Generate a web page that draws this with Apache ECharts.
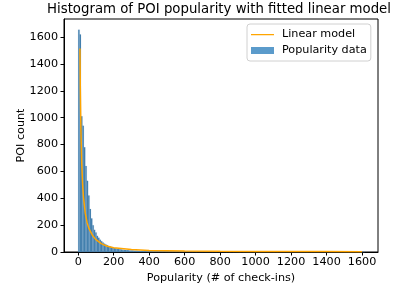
<!DOCTYPE html>
<html>
<head>
<meta charset="utf-8">
<script src="https://cdn.jsdelivr.net/npm/echarts@6/dist/echarts.min.js"></script>
<style>html,body{margin:0;padding:0;background:#fff}#c{width:401px;height:289px}</style>
</head>
<body>
<div id="c"></div>
<script>
// Histogram: bin width and counts per bin (bins start at 0)
const binWidth = 8;
const counts = [
  1655, 1620, 1010, 940, 780, 640, 530, 420, 320, 250,
  200, 165, 145, 120, 106, 92, 80, 71, 62, 56,
  50, 45, 41, 36, 32, 29, 27, 24, 22, 21,
  19, 17, 16, 15, 14, 13, 12, 11, 11, 10,
  9, 9, 8, 8, 7, 7, 6, 6, 6, 5,
  5, 5, 4, 4, 4, 4, 3, 3, 3, 3,
  3, 3, 2, 2, 2, 2, 2, 2, 2, 2,
  2, 1, 2, 1, 1, 2, 1, 1, 1, 1,
  1, 1, 1, 0, 1, 1, 0, 1, 1, 0,
  1, 0, 1, 1, 0, 1, 0, 0, 1, 0,
  1, 0, 0, 1, 0, 1, 0, 0, 1, 0,
  0, 1, 0, 0, 0, 1, 0, 0, 1, 0,
  0, 0, 1, 0, 0, 0, 1, 0, 0, 0,
  1, 0, 0, 0, 0, 1, 0, 0, 0, 0,
  0, 1, 0, 0, 0, 0, 0, 1, 0, 0,
  0, 0, 0, 0, 1, 0, 0, 0, 0, 0,
  0, 0, 1, 0, 0, 0, 0, 0, 0, 0,
  0, 1, 0, 0, 0, 0, 0, 0, 0, 0,
  0, 0, 0, 1, 0, 0, 0, 0, 0, 0,
  0, 0, 0, 0, 0, 0, 0, 0, 0, 1,
  0, 1
];
// Fitted model line (x = check-ins, y = POI count)
const modelX = [10, 12, 15, 20, 25, 30, 40, 50, 60, 80, 100, 130, 160, 200, 300, 400, 600, 800, 1000, 1200, 1400, 1600];
const modelY = [1515, 1217, 931, 659, 504, 405, 287, 220, 176, 125, 92, 62, 45, 32, 18, 12, 7, 5, 4, 3, 3, 2];
const xTicks = [0, 200, 400, 600, 800, 1000, 1200, 1400, 1600];
const yTicks = [0, 200, 400, 600, 800, 1000, 1200, 1400, 1600];

const histData = counts.map((c, i) => [i * binWidth, (i + 1) * binWidth, c]);
const lineData = modelX.map((x, i) => [x, modelY[i]]);

const FONT = 'DejaVu Sans';
const FS = 11.2;
const plain = v => String(v);
const chart = echarts.init(document.getElementById('c'), null, {renderer: 'canvas'});
chart.setOption({
  animation: false,
  backgroundColor: '#fff',
  textStyle: {fontFamily: FONT},
  graphic: [{
    type: 'text', x: 219, y: 10,
    style: {text: 'Histogram of POI popularity with fitted linear model', fontFamily: FONT, fontSize: 13.3,
      fill: '#000', textAlign: 'center', textVerticalAlign: 'middle'}
  }],
  grid: {left: 64, right: 23, top: 19, bottom: 37, show: true, borderColor: '#000', borderWidth: 1,
    backgroundColor: 'transparent', outerBoundsMode: 'none', containLabel: false},
  legend: {
    orient: 'vertical', left: 247, top: 24,
    padding: [5, 4, 5, 4], itemGap: 5, itemWidth: 23, itemHeight: 7,
    backgroundColor: 'rgba(255,255,255,0.85)', borderColor: '#d0d0d0', borderWidth: 1, borderRadius: 3,
    textStyle: {fontFamily: FONT, fontSize: FS, color: '#000', padding: [0, 0, 0, 3]},
    data: [
      {name: 'Linear model', icon: 'path://M0,0L0,0Z M23,7L23,7Z M0,3H23V4.2H0Z', itemStyle: {color: '#ffa500'}},
      {name: 'Popularity data', icon: 'rect', itemStyle: {color: '#5b9bcb'}}
    ]
  },
  xAxis: {
    type: 'value', min: -80, max: 1690,
    name: 'Popularity (# of check-ins)', nameLocation: 'middle', nameGap: 19,
    nameTextStyle: {fontFamily: FONT, fontSize: FS, color: '#000'},
    axisLine: {show: true, onZero: false, lineStyle: {color: '#000', width: 1}},
    axisTick: {show: true, length: 3.5, customValues: xTicks, lineStyle: {color: '#000'}},
    axisLabel: {customValues: xTicks, margin: 5, fontFamily: FONT, fontSize: FS, color: '#000', formatter: plain},
    splitLine: {show: false}
  },
  yAxis: {
    type: 'value', min: 0, max: 1735,
    name: 'POI count', nameLocation: 'middle', nameGap: 37, nameRotate: 90, nameMoveOverlap: false,
    nameTextStyle: {fontFamily: FONT, fontSize: FS, color: '#000'},
    axisLine: {show: true, onZero: false, lineStyle: {color: '#000', width: 1}},
    axisTick: {show: true, length: 3.5, customValues: yTicks, lineStyle: {color: '#000'}},
    axisLabel: {customValues: yTicks, margin: 6, fontFamily: FONT, fontSize: FS, color: '#000', formatter: plain},
    splitLine: {show: false}
  },
  series: [
    {
      name: 'Popularity data', type: 'custom', z: 2,
      itemStyle: {color: '#5b9bcb'},
      encode: {x: [0, 1], y: 2},
      data: histData,
      renderItem: function (params, api) {
        const p0 = api.coord([api.value(0), api.value(2)]);
        const p1 = api.coord([api.value(1), 0]);
        return {type: 'rect', shape: {x: p0[0], y: p0[1], width: p1[0] - p0[0], height: p1[1] - p0[1]},
          style: {fill: '#3f7cab', stroke: 'rgba(120,170,210,0.5)', lineWidth: 0.3}};
      }
    },
    {
      name: 'Linear model', type: 'line', z: 3, data: lineData,
      symbol: 'none', showSymbol: false,
      lineStyle: {color: '#ffa500', width: 1.5},
      itemStyle: {color: '#ffa500'}
    }
  ]
});
</script>
</body>
</html>
